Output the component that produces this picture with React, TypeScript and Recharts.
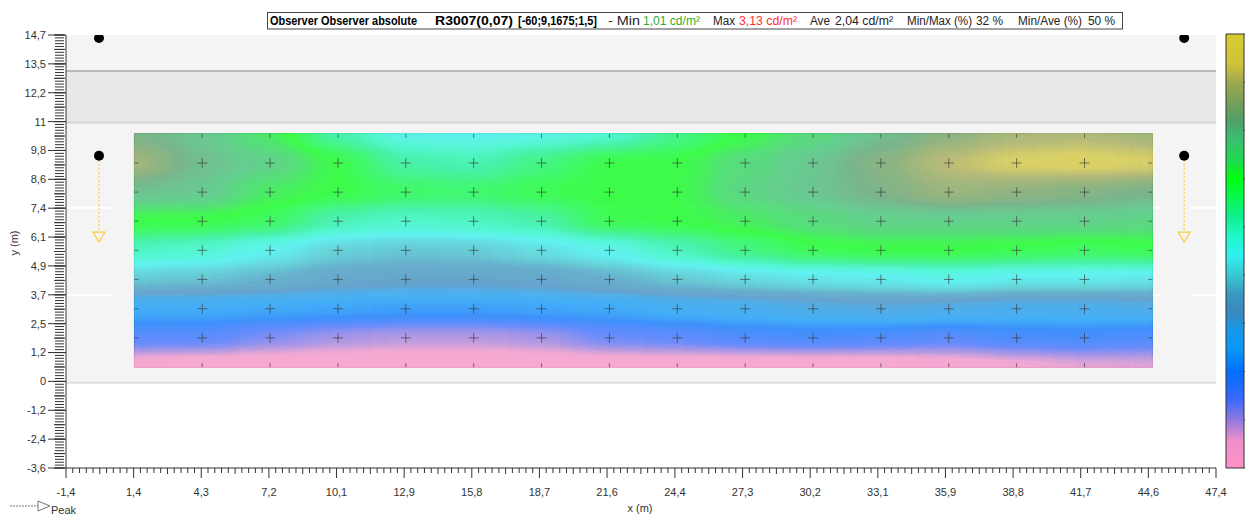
import React from 'react';
import { ComposedChart, Scatter, Bar, XAxis, YAxis, ReferenceArea, ReferenceLine } from 'recharts';

// axis ticks (m)
const xTicks = [-1.4, 1.47, 4.34, 7.21, 10.08, 12.95, 15.82, 18.69, 21.56, 24.44, 27.31, 30.18, 33.05, 35.92, 38.79, 41.66, 44.53, 47.4];
const xTickLabels = ['-1,4', '1,4', '4,3', '7,2', '10,1', '12,9', '15,8', '18,7', '21,6', '24,4', '27,3', '30,2', '33,1', '35,9', '38,8', '41,7', '44,6', '47,4'];
const yTicks = [-3.6, -2.38, -1.16, 0.06, 1.28, 2.5, 3.72, 4.94, 6.16, 7.38, 8.6, 9.82, 11.04, 12.26, 13.48, 14.7];
const yTickLabels = ['-3,6', '-2,4', '-1,2', '0', '1,2', '2,5', '3,7', '4,9', '6,1', '7,4', '8,6', '9,8', '11', '12,2', '13,5', '14,7'];

// colour scale (cd/m²)
const barTicks = [1, 1.25, 1.5, 1.75, 2, 2.25, 2.5, 2.75, 3, 3.25];
const barTickLabels = ['1,0', '1,25', '1,5', '1,75', '2', '2,25', '2,5', '2,75', '3', '3,25'];
const scaleBar = [{ name: 'scale', range: [1, 3.25] }];

// calculation grid
const colX = [1.5, 4.38, 7.26, 10.14, 13.02, 15.9, 18.78, 21.66, 24.54, 27.42, 30.3, 33.18, 36.06, 38.94, 41.82, 44.7];
const rowY = [10.52, 9.29, 8.06, 6.83, 5.6, 4.37, 3.13, 1.9, 0.66];

// luminance per row, left to right
const lum1052 = [2.82, 2.72, 2.55, 2.28, 2.12, 2.1, 2.12, 2.18, 2.35, 2.5, 2.62, 2.75, 2.86, 2.96, 2.98, 2.92];
const lum929 = [2.96, 2.76, 2.68, 2.5, 2.3, 2.27, 2.38, 2.5, 2.5, 2.62, 2.72, 2.85, 3.02, 3.11, 3.13, 3.1];
const lum806 = [2.75, 2.72, 2.55, 2.5, 2.44, 2.42, 2.48, 2.5, 2.5, 2.65, 2.73, 2.82, 2.92, 2.88, 2.84, 2.8];
const lum683 = [2.5, 2.5, 2.45, 2.27, 2.22, 2.24, 2.3, 2.48, 2.5, 2.55, 2.62, 2.68, 2.68, 2.68, 2.68, 2.65];
const lum560 = [2.24, 2.2, 2.1, 2.0, 1.97, 1.98, 2.04, 2.12, 2.25, 2.38, 2.47, 2.5, 2.5, 2.48, 2.45, 2.48];
const lum437 = [1.98, 1.96, 1.92, 1.85, 1.82, 1.82, 1.84, 1.9, 1.97, 2.02, 2.06, 2.08, 2.12, 2.08, 2.08, 2.06];
const lum313 = [1.62, 1.62, 1.6, 1.58, 1.56, 1.56, 1.58, 1.6, 1.65, 1.68, 1.72, 1.75, 1.72, 1.7, 1.7, 1.72];
const lum190 = [1.4, 1.4, 1.32, 1.26, 1.23, 1.23, 1.26, 1.35, 1.38, 1.43, 1.45, 1.43, 1.4, 1.45, 1.46, 1.42];
const lum066 = [1.05, 1.03, 1.02, 1.02, 1.01, 1.01, 1.02, 1.03, 1.03, 1.02, 1.02, 1.03, 1.05, 1.1, 1.14, 1.15];
const lumRows = [lum1052, lum929, lum806, lum683, lum560, lum437, lum313, lum190, lum066];

const observers = [
  { x: 0, y: 14.57 },
  { x: 46.05, y: 14.57 },
  { x: 0, y: 9.6 },
  { x: 46.05, y: 9.6 },
];
const arrowTips = [
  { x: 0, y: 5.95 },
  { x: 46.05, y: 5.95 },
];

const LUM_MIN = 1;
const LUM_MAX = 3.25;

const lumStops: [number, string][] = [
  [1.0, '#ff90c8'],
  [1.14, '#f090c8'],
  [1.25, '#9078e0'],
  [1.36, '#3868ff'],
  [1.5, '#0070ff'],
  [1.62, '#0898f8'],
  [1.72, '#1898e8'],
  [1.8, '#3888c0'],
  [1.9, '#3898c0'],
  [2.0, '#38c8d0'],
  [2.1, '#30f0f0'],
  [2.2, '#20f8c8'],
  [2.3, '#10f090'],
  [2.4, '#08f850'],
  [2.5, '#00ff10'],
  [2.6, '#20d850'],
  [2.7, '#38c070'],
  [2.8, '#50a068'],
  [2.9, '#78a058'],
  [3.0, '#a0a850'],
  [3.1, '#d0c438'],
  [3.25, '#d8cc30'],
];

const hexRgb = (h: string) => [1, 3, 5].map((i) => parseInt(h.slice(i, i + 2), 16));

function lumRgb(v: number) {
  if (v <= lumStops[0][0]) return hexRgb(lumStops[0][1]);
  for (let i = 1; i < lumStops.length; i++) {
    const [v1, c1] = lumStops[i];
    if (v <= v1) {
      const [v0, c0] = lumStops[i - 1];
      const t = (v - v0) / (v1 - v0);
      const a = hexRgb(c0);
      const b = hexRgb(c1);
      return a.map((k, j) => k + (b[j] - k) * t);
    }
  }
  return hexRgb(lumStops[lumStops.length - 1][1]);
}

// lookup tables: the blurred grey value is turned into the colour scale inside the filter
const lut = Array.from({ length: 91 }, (_, i) => lumRgb(LUM_MIN + (i * (LUM_MAX - LUM_MIN)) / 90));
const lutR = lut.map((c) => (c[0] / 255).toFixed(3)).join(' ');
const lutG = lut.map((c) => (c[1] / 255).toFixed(3)).join(' ');
const lutB = lut.map((c) => (c[2] / 255).toFixed(3)).join(' ');

const heatCells = rowY.flatMap((y, r) => lumRows[r].map((v, c) => ({ x: colX[c], y, v, r, c })));
const gridPts = rowY.flatMap((y, r) => colX.map((x, c) => ({ x, y, r, c })));

// plot size in px per metre (plot 1150 x 433)
const PX_X = 1150 / 48.8;
const PX_Y = 433 / 18.3;
const CELL_W = 2.88 * PX_X;
const CELL_H = 1.2325 * PX_Y;
const X_MAJOR_PX = 1150 / 17;

function HeatCell(props: any) {
  const { cx, cy, payload } = props;
  const left = payload.c === 0 ? cx : cx - CELL_W / 2 - 0.5;
  const right = payload.c === colX.length - 1 ? cx : cx + CELL_W / 2 + 0.5;
  const top = payload.r === 0 ? cy : cy - CELL_H / 2 - 0.5;
  const bottom = payload.r === rowY.length - 1 ? cy : cy + CELL_H / 2 + 0.5;
  const g = Math.round((255 * (payload.v - LUM_MIN)) / (LUM_MAX - LUM_MIN));
  return <rect x={left} y={top} width={right - left} height={bottom - top} fill={`rgb(${g},${g},${g})`} />;
}

function GridMark(props: any) {
  const { cx, cy, payload } = props;
  const lastC = colX.length - 1;
  const lastR = rowY.length - 1;
  const edgeC = payload.c === 0 || payload.c === lastC;
  const edgeR = payload.r === 0 || payload.r === lastR;
  const s = { stroke: '#3a3a3a', strokeOpacity: 0.65, strokeWidth: 1 };
  if (edgeC && edgeR) return <g />;
  if (payload.r === 0) return <line x1={cx} y1={cy} x2={cx} y2={cy + 4} {...s} />;
  if (payload.r === lastR) return <line x1={cx} y1={cy - 4} x2={cx} y2={cy} {...s} />;
  if (payload.c === 0) return <line x1={cx} y1={cy} x2={cx + 4} y2={cy} {...s} />;
  if (payload.c === lastC) return <line x1={cx - 4} y1={cy} x2={cx} y2={cy} {...s} />;
  return (
    <g>
      <line x1={cx - 5} y1={cy} x2={cx + 5} y2={cy} {...s} />
      <line x1={cx} y1={cy - 5} x2={cx} y2={cy + 5} {...s} />
    </g>
  );
}

const ObserverDot = (props: any) => <circle cx={props.cx} cy={props.cy} r={5} fill="#000" />;

const ArrowHead = (props: any) => {
  const { cx, cy } = props;
  return <path d={`M${cx - 6},${cy - 10} L${cx + 6},${cy - 10} L${cx},${cy} Z`} fill="none" stroke="#f5cf3c" strokeWidth={1.2} />;
};

const NoLabel = () => <g />;

// x tick: label plus the minor ticks up to the next label
function XTick(props: any) {
  const { x, y, index } = props;
  const axisY = y - 20;
  const minor = index < xTicks.length - 1 ? [1, 2, 3, 4, 5, 6, 7, 8, 9] : [];
  return (
    <g>
      {minor.map((k) => (
        <line key={k} x1={x + (k * X_MAJOR_PX) / 10} x2={x + (k * X_MAJOR_PX) / 10} y1={axisY} y2={axisY + (k === 5 ? 6 : 5)} stroke="#333" />
      ))}
      <text x={x} y={y} dy="0.71em" textAnchor="middle" fontSize={11} fill="#333">
        {xTickLabels[index]}
      </text>
    </g>
  );
}

const yMinor = Array.from({ length: 151 }, (_, i) => -3.6 + i * 0.122);
const yMid = Array.from({ length: 31 }, (_, i) => -3.6 + i * 0.61);

const titleParts = [
  { t: 'Observer Observer absolute', x: 270, w: 147, bold: true, c: '#000' },
  { t: 'R3007(0,07)', x: 435, w: 78, bold: true, c: '#000' },
  { t: '[-60;9,1675;1,5]', x: 518, w: 79, bold: true, c: '#000' },
  { t: '- Min', x: 608, w: 32, bold: false, c: '#222' },
  { t: '1,01 cd/m²', x: 643, w: 57, bold: false, c: '#2fae2f' },
  { t: 'Max', x: 713, w: 22, bold: false, c: '#222' },
  { t: '3,13 cd/m²', x: 739, w: 58, bold: false, c: '#ff3030' },
  { t: 'Ave', x: 810, w: 20, bold: false, c: '#222' },
  { t: '2,04 cd/m²', x: 835, w: 58, bold: false, c: '#222' },
  { t: 'Min/Max (%)', x: 907, w: 65, bold: false, c: '#222' },
  { t: '32 %', x: 976, w: 27, bold: false, c: '#222' },
  { t: 'Min/Ave (%)', x: 1018, w: 64, bold: false, c: '#222' },
  { t: '50 %', x: 1088, w: 27, bold: false, c: '#222' },
];

const axisTick = { fontSize: 11, fill: '#333' };

export default function App() {
  return (
    <div style={{ position: 'relative', width: 1245, height: 507, overflow: 'hidden', fontFamily: "'Liberation Sans', Arial, sans-serif" }}>
      <style>{'body{overflow:hidden}.heat{filter:url(#heatMap)}'}</style>
      <svg width={0} height={0} style={{ position: 'absolute' }}>
        <defs>
          <filter id="heatMap" x="0" y="0" width="1" height="1" colorInterpolationFilters="sRGB">
            <feGaussianBlur stdDeviation="20 8" />
            <feComponentTransfer>
              <feFuncR type="table" tableValues={lutR} />
              <feFuncG type="table" tableValues={lutG} />
              <feFuncB type="table" tableValues={lutB} />
              <feFuncA type="linear" slope="0" intercept="0.75" />
            </feComponentTransfer>
          </filter>
          <linearGradient id="cbarGrad" x1="0" y1="0" x2="0" y2="1">
            {[...lumStops].reverse().map(([v, c]) => (
              <stop key={v} offset={(LUM_MAX - v) / (LUM_MAX - LUM_MIN)} stopColor={c} />
            ))}
          </linearGradient>
        </defs>
      </svg>

      <ComposedChart width={1245} height={507} margin={{ top: 27, right: 37, bottom: 46, left: 55 }}>
        <XAxis
          type="number"
          dataKey="x"
          domain={[-1.4, 47.4]}
          ticks={xTicks}
          interval={0}
          tickSize={10}
          tickMargin={10}
          height={1}
          allowDataOverflow
          stroke="#333"
          tick={XTick}
        />
        <YAxis
          type="number"
          dataKey="y"
          domain={[-3.6, 14.7]}
          ticks={yTicks}
          interval={0}
          tickSize={18}
          tickMargin={2}
          width={1}
          allowDataOverflow
          stroke="#333"
          tick={axisTick}
          tickFormatter={(v: number, i: number) => yTickLabels[i]}
        />
        <YAxis yAxisId="yMinor" type="number" domain={[-3.6, 14.7]} ticks={yMinor} interval={0} tick={NoLabel} tickSize={9} axisLine={false} width={1} allowDataOverflow stroke="#333" />
        <YAxis yAxisId="yMid" type="number" domain={[-3.6, 14.7]} ticks={yMid} interval={0} tick={NoLabel} tickSize={11} axisLine={false} width={1} allowDataOverflow stroke="#333" />

        <ReferenceArea y1={0} y2={11} fill="#f4f4f4" fillOpacity={1} />
        <ReferenceArea y1={11} y2={13.18} fill="#e8e8e8" fillOpacity={1} />
        <ReferenceArea y1={13.18} y2={14.7} fill="#f4f4f4" fillOpacity={1} />
        <ReferenceLine y={0} stroke="#e0e0e0" strokeWidth={2} />
        <ReferenceLine y={11} stroke="#d4d4d4" strokeWidth={2} />
        <ReferenceLine y={13.18} stroke="#a8a8a8" strokeWidth={1.5} />
        <ReferenceLine y={3.7} stroke="#ffffff" strokeWidth={2} strokeDasharray="45 30" />
        <ReferenceLine y={7.4} stroke="#ffffff" strokeWidth={2} strokeDasharray="45 30" />

        <Scatter className="heat" data={heatCells} shape={HeatCell} isAnimationActive={false} />
        <ReferenceArea x1={1.5} x2={44.7} y1={0.66} y2={10.52} fill="none" stroke="#b8b8b8" strokeWidth={1} />
        <Scatter data={gridPts} shape={GridMark} isAnimationActive={false} />

        <ReferenceLine segment={[{ x: 0, y: 9.6 }, { x: 0, y: 6.4 }]} stroke="#f5cf3c" strokeWidth={1.2} strokeDasharray="2 2" />
        <ReferenceLine segment={[{ x: 46.05, y: 9.6 }, { x: 46.05, y: 6.4 }]} stroke="#f5cf3c" strokeWidth={1.2} strokeDasharray="2 2" />
        <Scatter data={arrowTips} shape={ArrowHead} isAnimationActive={false} />
        <Scatter data={observers} shape={ObserverDot} isAnimationActive={false} />
      </ComposedChart>

      <div style={{ position: 'absolute', left: 1213, top: 0 }}>
        <ComposedChart width={60} height={507} data={scaleBar} barCategoryGap={0} margin={{ top: 26, right: 0, bottom: 47, left: 5 }}>
          <XAxis type="category" dataKey="name" hide />
          <YAxis
            orientation="right"
            type="number"
            domain={[LUM_MIN, LUM_MAX]}
            ticks={barTicks}
            interval={0}
            tickSize={4}
            tickMargin={1}
            width={37}
            axisLine={false}
            stroke="#333"
            tick={{ fontSize: 12, fill: '#333' }}
            tickFormatter={(v: number, i: number) => barTickLabels[i]}
          />
          <Bar dataKey="range" fill="url(#cbarGrad)" stroke="#333" strokeWidth={1} isAnimationActive={false} />
        </ComposedChart>
      </div>

      <svg width={1245} height={507} style={{ position: 'absolute', left: 0, top: 0, pointerEvents: 'none' }}>
        <g transform="translate(-8,-8)">
          <rect x={267.5} y={12.5} width={855} height={16.5} fill="#fff" stroke="#444" />
          {titleParts.map((p) => (
            <text key={p.t} x={p.x} y={25} fontSize={12} fontWeight={p.bold ? 700 : 400} fill={p.c} textLength={p.w} lengthAdjust="spacingAndGlyphs">
              {p.t}
            </text>
          ))}
          <text x={15} y={243} fontSize={11} fill="#333" textAnchor="middle" transform="rotate(-90 15 243)" dominantBaseline="middle">
            y (m)
          </text>
          <text x={640} y={512} fontSize={11} fill="#333" textAnchor="middle">
            x (m)
          </text>
          <line x1={10} y1={506} x2={38} y2={506} stroke="#777" strokeDasharray="2 1" />
          <path d="M38,501 L50,506 L38,511 Z" fill="#fff" stroke="#777" />
          <text x={51} y={514} fontSize={11} fill="#333">
            Peak
          </text>
        </g>
      </svg>
    </div>
  );
}
